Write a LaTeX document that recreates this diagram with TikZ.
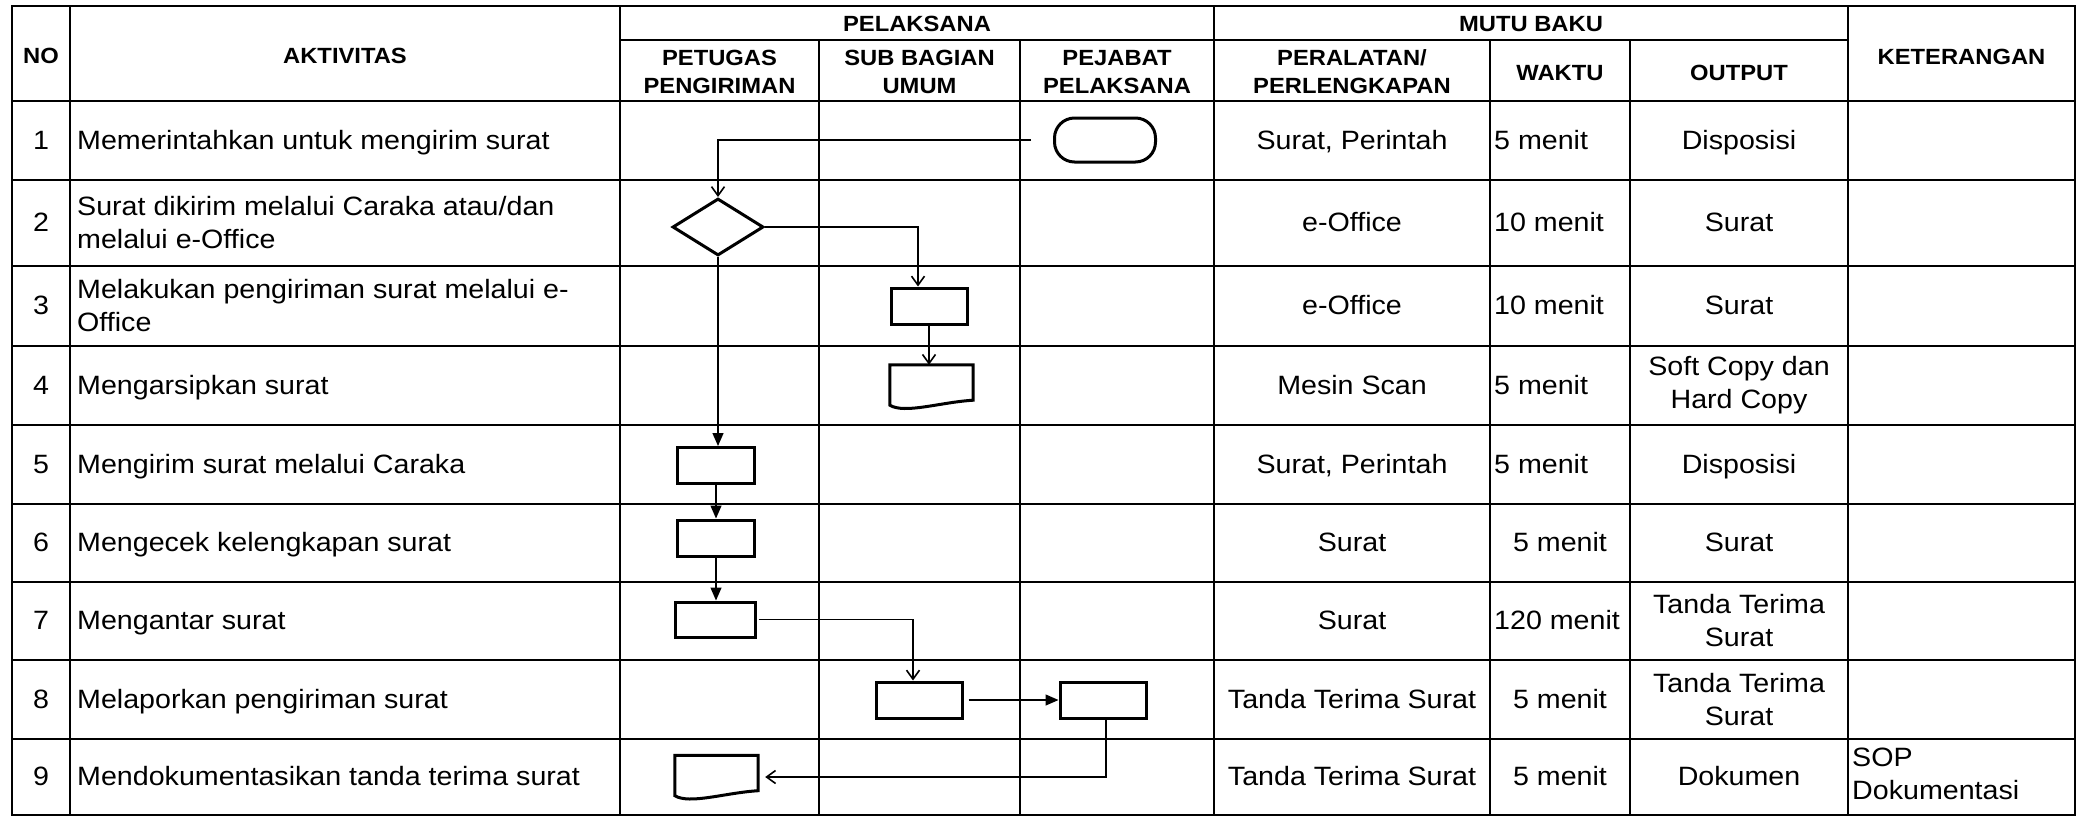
\documentclass[tikz,border=0pt]{standalone}
\usepackage{fontspec}
\setmainfont{Liberation Sans}[FakeStretch=1.08]
\usetikzlibrary{arrows.meta,shapes.geometric,calc}
\begin{document}
\begin{tikzpicture}[x=1pt,y=-1pt,
  tbl/.style={line width=2.7pt, line cap=rect},
  hd/.style={font=\fontsize{22}{28}\selectfont\bfseries, align=center, inner sep=0pt},
  hdb/.style={hd, anchor=base},
  bd/.style={font=\fontsize{26.5}{33}\selectfont, inner sep=0pt},
  bdb/.style={bd, anchor=base},
  bdbl/.style={bd, anchor=base west},
  bdm/.style={bd, align=center},
  bdml/.style={bd, anchor=west, align=left},
  shp/.style={draw, line width=3pt, inner sep=0pt},
  box/.style={shp, rectangle, minimum width=#1, minimum height=36pt},
  docarea/.style={inner sep=0pt, minimum width=83pt, minimum height=43pt},
  conn/.style={line width=1.4pt},
  openarr/.style={conn, -{Straight Barb[length=9pt,width=13pt,line width=1.6pt]}},
  fillarr/.style={conn, -{Triangle[length=13pt,width=11pt]}},
]
\useasboundingbox (0,0) rectangle (2077,817);

% ---------- table grid ----------
\draw[tbl] (12,6) rectangle (2075,815);
\foreach \x in {70,620,1214,1848} \draw[tbl] (\x,6) -- (\x,815);
\foreach \x in {819,1020,1490,1630} \draw[tbl] (\x,40) -- (\x,815);
\draw[tbl] (620,40) -- (1848,40);
\foreach \y in {101,180,266,346,425,504,582,660,739} \draw[tbl] (12,\y) -- (2075,\y);

% ---------- header ----------
\node[hdb] (hno) at (41,63) {NO};
\node[hdb] (hakt) at (345,63) {AKTIVITAS};
\node[hdb] (hpel) at (917,31) {PELAKSANA};
\node[hd] (hpet) at (719.5,72) {PETUGAS\\PENGIRIMAN};
\node[hd] (hsub) at (919.5,72) {SUB BAGIAN\\UMUM};
\node[hd] (hpej) at (1117,72) {PEJABAT\\PELAKSANA};
\node[hdb] (hmutu) at (1531,31) {MUTU BAKU};
\node[hd] (hper) at (1352,72) {PERALATAN/\\PERLENGKAPAN};
\node[hdb] (hwak) at (1560,80) {WAKTU};
\node[hdb] (hout) at (1739,80) {OUTPUT};
\node[hdb] (hket) at (1961.5,64) {KETERANGAN};

% ---------- rows ----------
% row 1
\node[bdb] (n1) at (41,149) {1};
\node[bdbl] (a1) at (77,149) {Memerintahkan untuk mengirim surat};
\node[bdb] (p1) at (1352,149) {Surat, Perintah};
\node[bdbl] (w1) at (1494,149) {5 menit};
\node[bdb] (o1) at (1739,149) {Disposisi};
% row 2
\node[bdb] (n2) at (41,231.5) {2};
\node[bdml] (a2) at (77,223) {Surat dikirim melalui Caraka atau/dan\\melalui e-Office};
\node[bdb] (p2) at (1352,231.5) {e-Office};
\node[bdbl] (w2) at (1494,231.5) {10 menit};
\node[bdb] (o2) at (1739,231.5) {Surat};
% row 3
\node[bdb] (n3) at (41,314.5) {3};
\node[bdml] (a3) at (77,306) {Melakukan pengiriman surat melalui e-\\Office};
\node[bdb] (p3) at (1352,314.5) {e-Office};
\node[bdbl] (w3) at (1494,314.5) {10 menit};
\node[bdb] (o3) at (1739,314.5) {Surat};
% row 4
\node[bdb] (n4) at (41,394) {4};
\node[bdbl] (a4) at (77,394) {Mengarsipkan surat};
\node[bdb] (p4) at (1352,394) {Mesin Scan};
\node[bdbl] (w4) at (1494,394) {5 menit};
\node[bdm] (o4) at (1739,385.5) {Soft Copy dan\\Hard Copy};
% row 5
\node[bdb] (n5) at (41,473) {5};
\node[bdbl] (a5) at (77,473) {Mengirim surat melalui Caraka};
\node[bdb] (p5) at (1352,473) {Surat, Perintah};
\node[bdbl] (w5) at (1494,473) {5 menit};
\node[bdb] (o5) at (1739,473) {Disposisi};
% row 6
\node[bdb] (n6) at (41,551.5) {6};
\node[bdbl] (a6) at (77,551.5) {Mengecek kelengkapan surat};
\node[bdb] (p6) at (1352,551.5) {Surat};
\node[bdb] (w6) at (1560,551.5) {5 menit};
\node[bdb] (o6) at (1739,551.5) {Surat};
% row 7
\node[bdb] (n7) at (41,629.5) {7};
\node[bdbl] (a7) at (77,629.5) {Mengantar surat};
\node[bdb] (p7) at (1352,629.5) {Surat};
\node[bdbl] (w7) at (1494,629.5) {120 menit};
\node[bdm] (o7) at (1739,621) {Tanda Terima\\Surat};
% row 8
\node[bdb] (n8) at (41,708) {8};
\node[bdbl] (a8) at (77,708) {Melaporkan pengiriman surat};
\node[bdb] (p8) at (1352,708) {Tanda Terima Surat};
\node[bdb] (w8) at (1560,708) {5 menit};
\node[bdm] (o8) at (1739,699.5) {Tanda Terima\\Surat};
% row 9
\node[bdb] (n9) at (41,785.5) {9};
\node[bdbl] (a9) at (77,785.5) {Mendokumentasikan tanda terima surat};
\node[bdb] (p9) at (1352,785.5) {Tanda Terima Surat};
\node[bdb] (w9) at (1560,785.5) {5 menit};
\node[bdb] (o9) at (1739,785.5) {Dokumen};
\node[bdml] (k9) at (1852,774) {SOP\\Dokumentasi};

% ---------- flow shapes ----------
\node[shp, rounded corners=20pt, minimum width=101pt, minimum height=44pt] (term) at (1105,140) {};
\node[shp, diamond, minimum width=91pt, minimum height=57pt] (dia) at (718,227) {};
\node[box=76pt] (s3) at (929,306) {};
\node[docarea] (d4) at (931.5,386.5) {};
\draw[shp] (d4.north west) -- (d4.north east) -- ([yshift=8pt]d4.south east)
  .. controls +(-33pt,-2pt) and +(15pt,-9pt) .. ([yshift=3pt]d4.south west) -- cycle;
\node[box=77pt] (s5) at (716,465.5) {};
\node[box=77pt] (s6) at (716,538) {};
\node[box=80pt, minimum height=35pt] (s7) at (715,619.5) {};
\node[box=86pt] (s8a) at (919,700) {};
\node[box=86pt] (s8b) at (1103,700) {};
\node[docarea] (d9) at (716.5,777) {};
\draw[shp] (d9.north west) -- (d9.north east) -- ([yshift=8pt]d9.south east)
  .. controls +(-33pt,-2pt) and +(15pt,-9pt) .. ([yshift=3pt]d9.south west) -- cycle;

% ---------- connectors ----------
\draw[openarr] ([xshift=-22pt]term.west) -| (dia.north);
\draw[openarr] (dia.east) -| ([xshift=-11pt]s3.north);
\draw[openarr] (s3.south) -- (s3.south |- d4.north);
\draw[fillarr] (dia.south) -- (dia.south |- s5.north);
\draw[fillarr] (s5.south) -- (s5.south |- s6.north);
\draw[fillarr] (s6.south) -- (s6.south |- s7.north);
\draw[openarr] ([xshift=2pt]s7.east) -| ([xshift=-6pt]s8a.north);
\draw[fillarr] ([xshift=5pt]s8a.east) -- (s8b.west);
\draw[openarr] ([xshift=3pt]s8b.south) |- ([xshift=7pt]d9.east);
\end{tikzpicture}
\end{document}
